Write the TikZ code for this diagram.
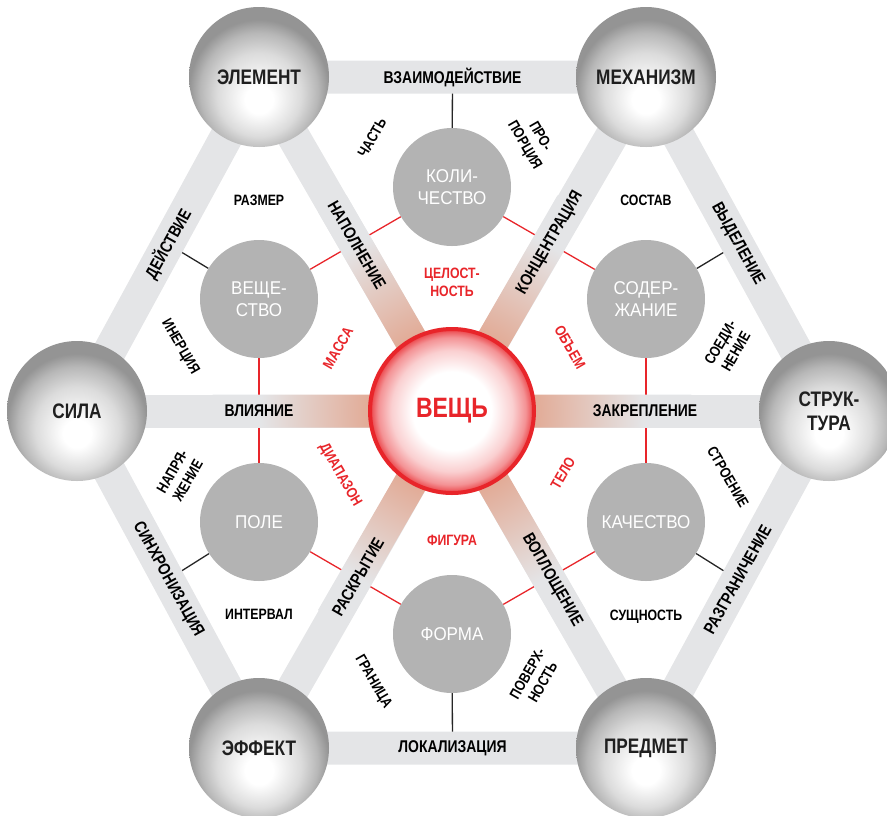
\documentclass[tikz,border=0pt]{standalone}
\usepackage{fontspec}
\setmainfont{Liberation Sans}[FakeStretch=0.82]
\newfontfamily\innerfont{Liberation Sans}[FakeStretch=0.92]
\usetikzlibrary{calc}

\definecolor{barg}{RGB}{228,229,231}
\definecolor{innerg}{RGB}{179,179,179}
\definecolor{thingred}{RGB}{232,37,42}
\definecolor{spokered}{RGB}{226,172,152}

\pgfdeclareradialshading{sphere}{\pgfpoint{0bp}{-9bp}}{color(0bp)=(white); color(5bp)=(white); color(15bp)=(black!14); color(21bp)=(black!28); color(25bp)=(black!42); color(50bp)=(black!42)}
\pgfdeclareradialshading{thingglow}{\pgfpoint{0bp}{0bp}}{color(0bp)=(white); color(12bp)=(white); color(18.5bp)=(thingred!22); color(22.5bp)=(thingred!50); color(24.5bp)=(thingred!80); color(25bp)=(thingred); color(50bp)=(thingred)}
\pgfdeclareradialshading{spokeglow}{\pgfpoint{0bp}{0bp}}{color(0bp)=(spokered); color(8.8bp)=(spokered); color(20bp)=(barg); color(50bp)=(barg)}

\pgfdeclarelayer{lines}
\pgfdeclarelayer{bars}
\pgfsetlayers{lines,bars,main}

\tikzset{
  outer/.style={circle, minimum size=140pt, inner sep=0pt, shade, shading=sphere, text=black!88, align=center, font=\bfseries\fontsize{21}{24}\selectfont},
  inner/.style={circle, minimum size=118pt, inner sep=0pt, fill=innerg, text=white, align=center, font=\innerfont\fontsize{18.5}{22}\selectfont},
  thing/.style={circle, minimum size=164pt, inner sep=0pt, shade, shading=thingglow, draw=thingred, line width=4pt, text=thingred, font=\bfseries\fontsize{28}{30}\selectfont},
  bar/.style={draw=barg, line width=33pt},
  link/.style={draw=thingred, line width=1.3pt},
  tie/.style={draw=black!85, line width=1.3pt},
  lbl/.style={align=center, inner sep=1pt, font=\bfseries\fontsize{15}{18}\selectfont},
  barlbl/.style={lbl, font=\bfseries\fontsize{17}{19}\selectfont},
  redlbl/.style={lbl, text=thingred},
}

\begin{document}
\begin{tikzpicture}[x=1pt,y=-1pt]
  \useasboundingbox (0,0) rectangle (887,815);

  % the thing in the middle
  \node[thing] (thing) at (452,411) {ВЕЩЬ};

  % outer ring
  \node[outer] (element) at (259,77) {ЭЛЕМЕНТ};
  \node[outer] (mechanism) at (646,77) {МЕХАНИЗМ};
  \node[outer] (force) at (77,411) {СИЛА};
  \node[outer] (structure) at (829,411) {СТРУК-\\ТУРА};
  \node[outer] (effect) at (259,748) {ЭФФЕКТ};
  \node[outer] (subject) at (646,748) {ПРЕДМЕТ};

  % inner ring
  \node[inner] (substance) at (259,299) {ВЕЩЕ-\\СТВО};
  \node[inner] (quantity) at (452,187) {КОЛИ-\\ЧЕСТВО};
  \node[inner] (content) at (646,299) {СОДЕР-\\ЖАНИЕ};
  \node[inner] (quality) at (646,522) {КАЧЕСТВО};
  \node[inner] (form) at (452,634) {ФОРМА};
  \node[inner] (field) at (259,522) {ПОЛЕ};

  % middles of the hexagon sides
  \coordinate (topmid) at ($(element)!.5!(mechanism)$);
  \coordinate (ulmid) at ($(force)!.5!(element)$);
  \coordinate (llmid) at ($(force)!.5!(effect)$);
  \coordinate (botmid) at ($(effect)!.5!(subject)$);
  \coordinate (lrmid) at ($(subject)!.5!(structure)$);
  \coordinate (urmid) at ($(mechanism)!.5!(structure)$);

  % thin lines, under the bars
  \begin{pgfonlayer}{lines}
    \foreach \a/\b in {substance/quantity, quantity/content, content/quality, quality/form, form/field, field/substance}
      \draw[link] (\a) -- (\b);
    \draw[tie] (quantity) -- (topmid);
    \draw[tie] (substance) -- (ulmid);
    \draw[tie] (field) -- (llmid);
    \draw[tie] (form) -- (botmid);
    \draw[tie] (quality) -- (lrmid);
    \draw[tie] (content) -- (urmid);
  \end{pgfonlayer}

  % the bars
  \begin{pgfonlayer}{bars}
    \draw[bar] (element.center) -- (mechanism.center) -- (structure.center) -- (subject.center) -- (effect.center) -- (force.center) -- cycle;
    \foreach \n in {element,mechanism,structure,subject,effect,force}
      \draw[bar] (thing.center) -- (\n.center);
    % reddish glow of the spokes
    \begin{scope}
      \clip \foreach \a in {0,60,...,300} {($(thing.center)+(\a+90:16.5)$) -- ++(\a:240) -- ++(\a-90:33) -- ++(\a+180:240) -- cycle};
      \shade[shading=spokeglow] (thing.center) circle (240pt);
    \end{scope}
  \end{pgfonlayer}

  % labels on the hexagon sides
  \node[barlbl] (interaction) at (topmid) {ВЗАИМОДЕЙСТВИЕ};
  \node[barlbl, rotate=61] (action) at (ulmid) {ДЕЙСТВИЕ};
  \node[barlbl, rotate=-61] (sync) at (llmid) {СИНХРОНИЗАЦИЯ};
  \node[barlbl] (locality) at (botmid) {ЛОКАЛИЗАЦИЯ};
  \node[barlbl, rotate=61] (bounding) at (lrmid) {РАЗГРАНИЧЕНИЕ};
  \node[barlbl, rotate=-61] (selection) at (urmid) {ВЫДЕЛЕНИЕ};

  % labels on the spokes
  \node[barlbl, rotate=-60] (filling) at (357,245) {НАПОЛНЕНИЕ};
  \node[barlbl, rotate=60] (concentration) at (550,243) {КОНЦЕНТРАЦИЯ};
  \node[barlbl] (influence) at (259,411) {ВЛИЯНИЕ};
  \node[barlbl] (fixing) at (645,411) {ЗАКРЕПЛЕНИЕ};
  \node[barlbl, rotate=60] (disclosure) at (358,577) {РАСКРЫТИЕ};
  \node[barlbl, rotate=-60] (embodiment) at (552,580) {ВОПЛОЩЕНИЕ};

  % black labels
  \node[lbl] (size) at (259,200) {РАЗМЕР};
  \node[lbl] (composition) at (646,200) {СОСТАВ};
  \node[lbl] (interval) at (259,614) {ИНТЕРВАЛ};
  \node[lbl] (essence) at (646,617) {СУЩНОСТЬ};
  \node[lbl, rotate=60] (part) at (372,138) {ЧАСТЬ};
  \node[lbl, rotate=-60] (proportion) at (532,141) {ПРО-\\ПОРЦИЯ};
  \node[lbl, rotate=-60] (inertia) at (180,347) {ИНЕРЦИЯ};
  \node[lbl, rotate=60] (tension) at (180,476) {НАПРЯ-\\ЖЕНИЕ};
  \node[lbl, rotate=-60] (border) at (373,682) {ГРАНИЦА};
  \node[lbl, rotate=60] (surface) at (535,678) {ПОВЕРХ-\\НОСТЬ};
  \node[lbl, rotate=-60] (build) at (728,477) {СТРОЕНИЕ};
  \node[lbl, rotate=60] (joint) at (728,347) {СОЕДИ-\\НЕНИЕ};

  % red labels round the thing
  \node[redlbl] (integrity) at (452,282) {ЦЕЛОСТ-\\НОСТЬ};
  \node[redlbl, rotate=60] (mass) at (338,348) {МАССА};
  \node[redlbl, rotate=-60] (volume) at (570,347) {ОБЪЕМ};
  \node[redlbl, rotate=-60] (range) at (340,475) {ДИАПАЗОН};
  \node[redlbl, rotate=60] (body) at (563,473) {ТЕЛО};
  \node[redlbl] (figure) at (452,540) {ФИГУРА};
\end{tikzpicture}
\end{document}
